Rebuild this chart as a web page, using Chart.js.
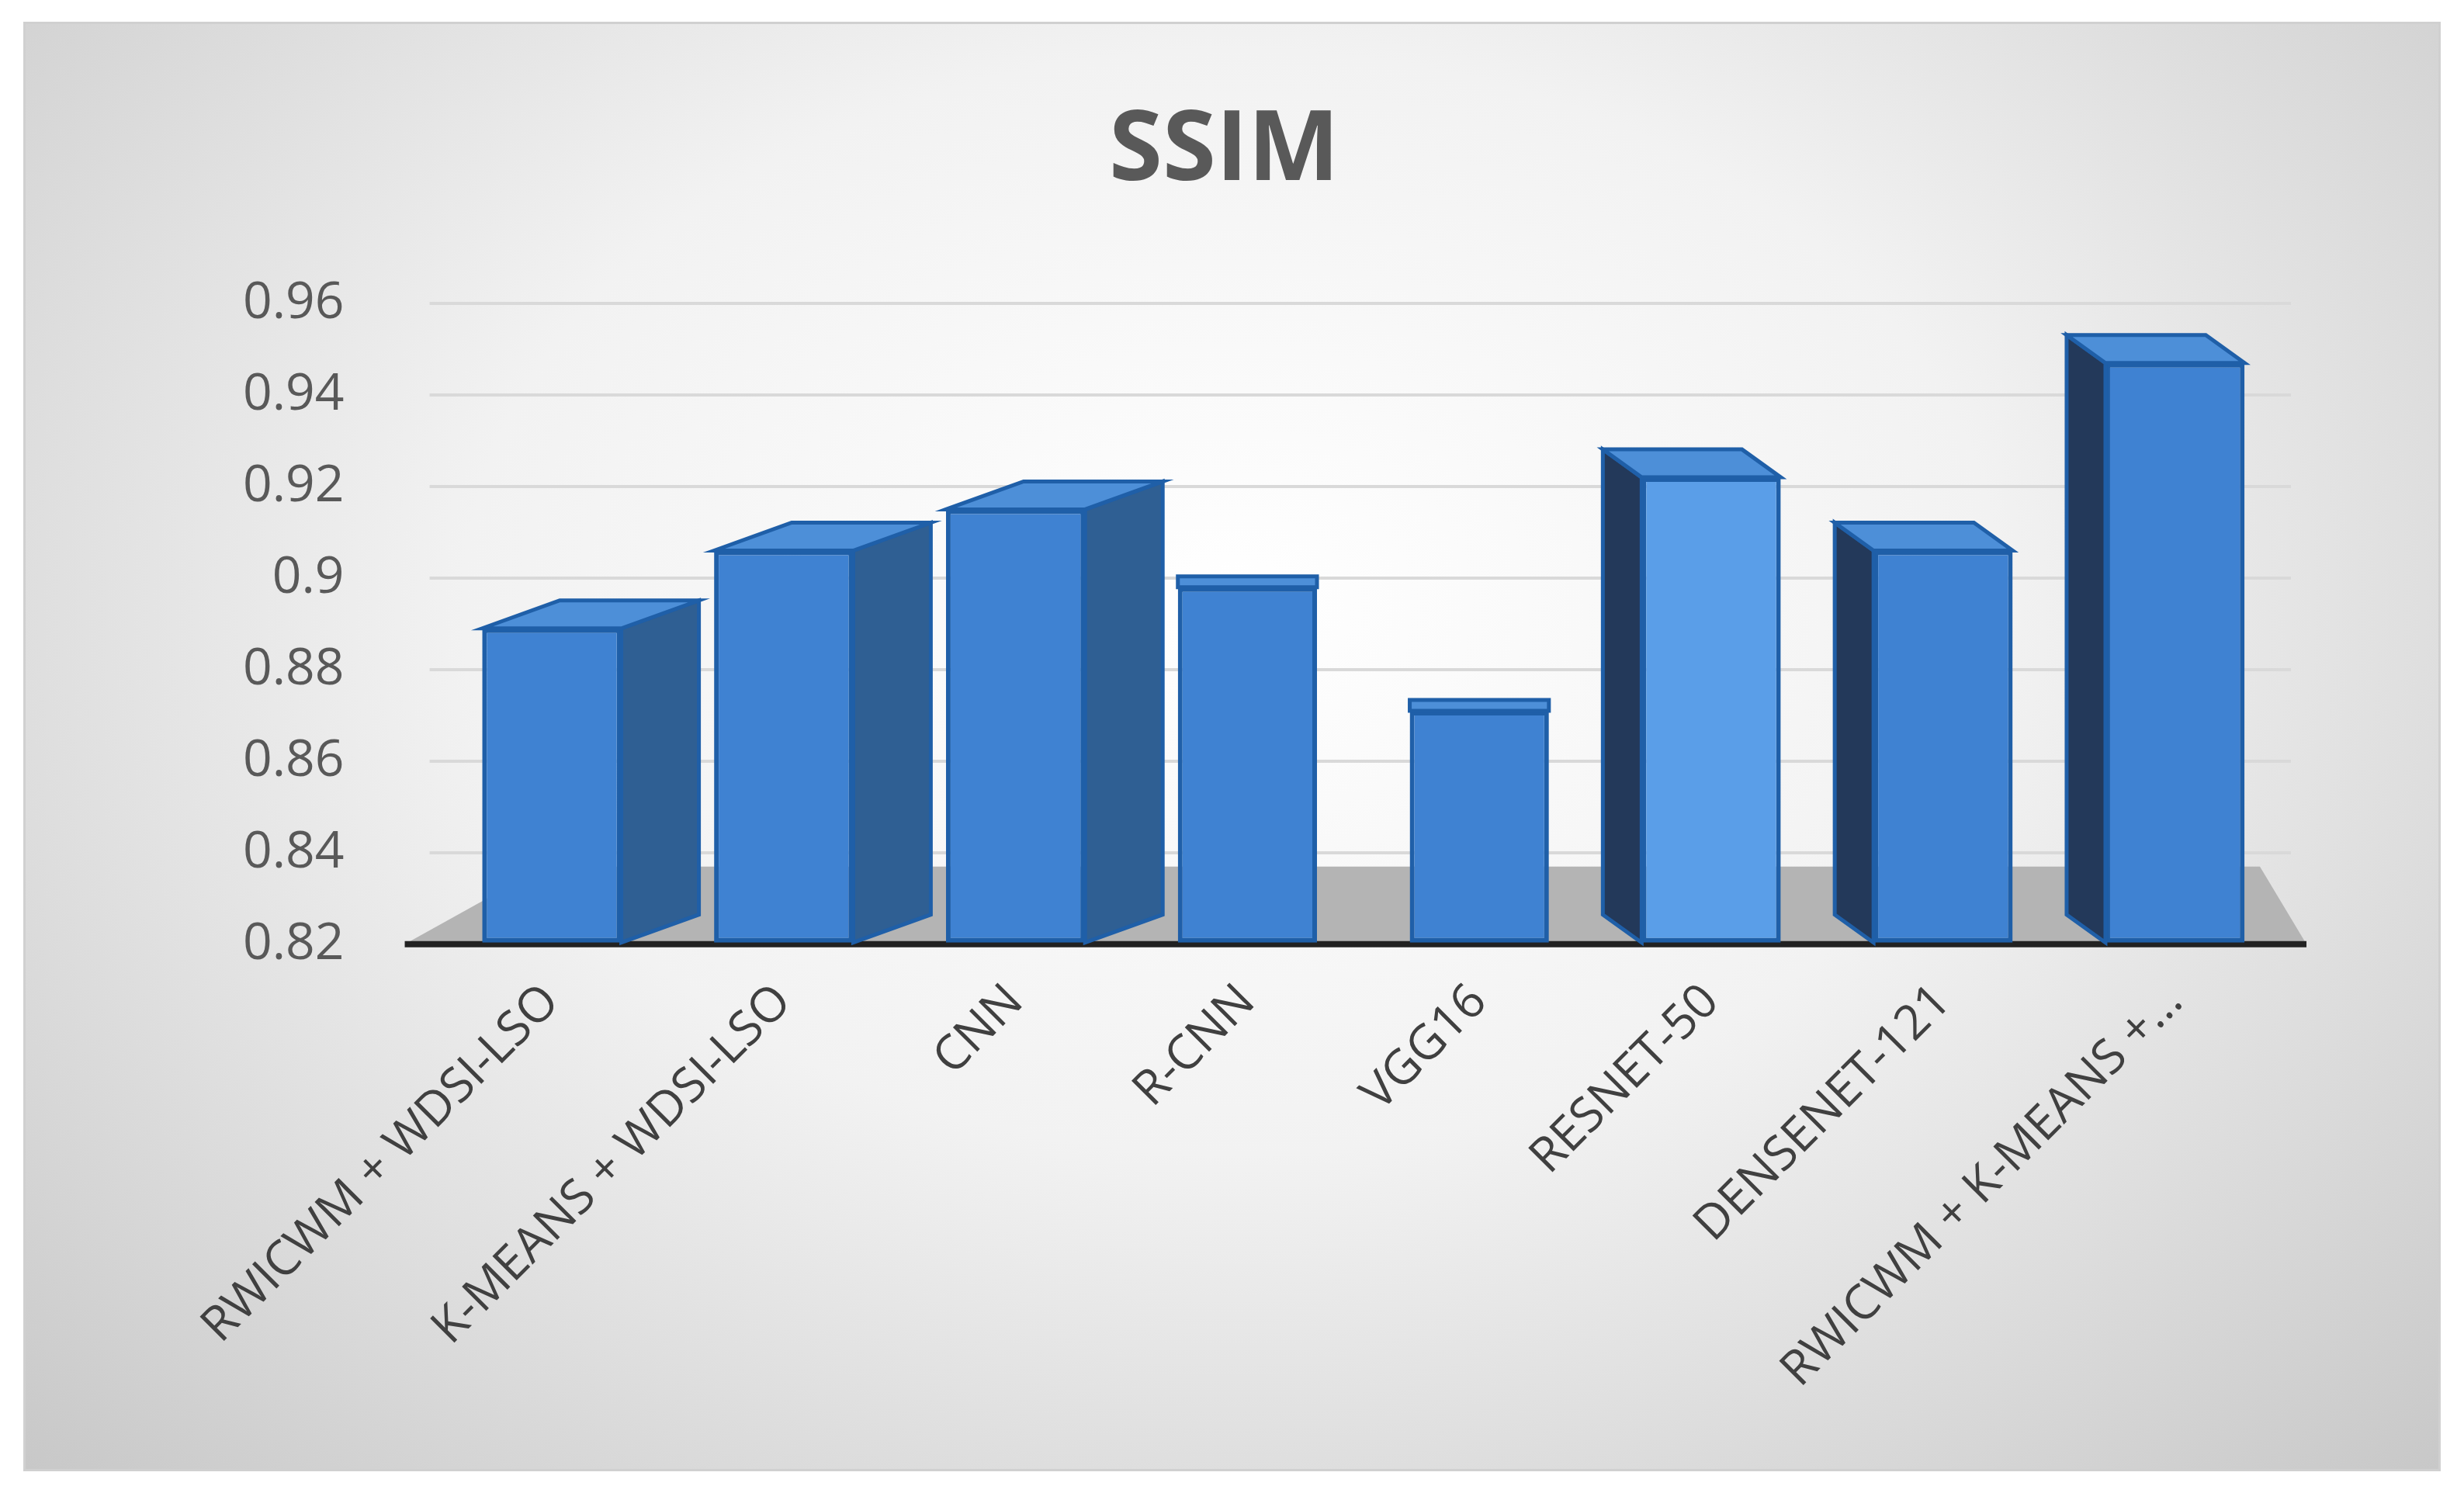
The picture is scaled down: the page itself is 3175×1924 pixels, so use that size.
<!DOCTYPE html>
<html>
<head>
  <title>SSIM</title>
  <script src="https://cdn.jsdelivr.net/npm/chart.js"></script>
  <style>
    body { margin: 0; padding: 0; background: #ffffff; font-family: 'Open Sans', sans-serif; }
    #chart-container {
      position: absolute; left: 30px; top: 28px; width: 3115px; height: 1868px;
      border: 3px solid #d0d0d0; box-sizing: border-box;
      background: radial-gradient(ellipse at 50% 40%, #ffffff 0%, #f2f2f2 45%, #c8c8c8 100%);
    }
    canvas { width: 100% !important; height: 100% !important; }
  </style>
</head>
<body>
  <div id="chart-container">
    <canvas id="myChart"></canvas>
  </div>
  <script>
    const categories = ['RWICWM + WDSI-LSO', 'K-MEANS + WDSI-LSO', 'CNN', 'R-CNN', 'VGG16', 'RESNET-50', 'DENSENET-121', 'RWICWM + K-MEANS +...'];
    const ssimValues = [0.889, 0.906, 0.915, 0.898, 0.871, 0.922, 0.906, 0.947];
    const yTicks = [0.82, 0.84, 0.86, 0.88, 0.9, 0.92, 0.94, 0.96];

    // fake 3D: floor, side faces and top faces drawn from the bar elements
    const depthPlugin = {
      id: 'depth',
      beforeDatasetsDraw(chart) {
        const { ctx, chartArea, scales } = chart;
        const y0 = scales.y.getPixelForValue(0.82);
        ctx.save();
        ctx.fillStyle = '#b4b4b4';
        ctx.beginPath();
        ctx.moveTo(chartArea.left - 40, y0);
        ctx.lineTo(chartArea.left + 140, y0 - 100);
        ctx.lineTo(chartArea.right - 40, y0 - 100);
        ctx.lineTo(chartArea.right + 20, y0);
        ctx.closePath();
        ctx.fill();
        ctx.strokeStyle = '#222';
        ctx.lineWidth = 8;
        ctx.beginPath();
        ctx.moveTo(chartArea.left - 40, y0);
        ctx.lineTo(chartArea.right + 20, y0);
        ctx.stroke();
        ctx.restore();
      },
      afterDatasetsDraw(chart) {
        const { ctx } = chart;
        const meta = chart.getDatasetMeta(0);
        const dx = 100, dy = -36;
        ctx.save();
        ctx.lineWidth = 5;
        ctx.strokeStyle = '#1f5fa8';
        meta.data.forEach((bar, i) => {
          const w = bar.width, l = bar.x - w / 2, r = bar.x + w / 2;
          const top = bar.y, bot = bar.base;
          const right = i < 4;
          const ox = right ? dx : -dx * 0.5;
          if (i !== 3 && i !== 4) {
            ctx.fillStyle = right ? '#2f5f93' : '#23395a';
            const sx = right ? r : l;
            ctx.beginPath();
            ctx.moveTo(sx, top); ctx.lineTo(sx + ox, top + dy); ctx.lineTo(sx + ox, bot + dy); ctx.lineTo(sx, bot);
            ctx.closePath();
            ctx.fill(); ctx.stroke();
          }
          const tox = (i === 3 || i === 4) ? 0 : ox;
          const tdy = (i === 3 || i === 4) ? -14 : dy;
          ctx.fillStyle = '#4d8fd8';
          ctx.beginPath();
          ctx.moveTo(l, top); ctx.lineTo(l + tox, top + tdy); ctx.lineTo(r + tox, top + tdy); ctx.lineTo(r, top);
          ctx.closePath();
          ctx.fill(); ctx.stroke();
        });
        ctx.restore();
      }
    };

    const ctx = document.getElementById('myChart').getContext('2d');
    new Chart(ctx, {
      type: 'bar',
      data: {
        labels: categories,
        datasets: [{
          label: 'SSIM',
          data: ssimValues,
          base: 0.82,
          backgroundColor: ssimValues.map((v, i) => i === 5 ? '#5a9ee8' : '#3f82d2'),
          borderColor: '#1f5fa8',
          borderWidth: 6,
          barPercentage: 0.6,
          categoryPercentage: 1.0,
          borderSkipped: false
        }]
      },
      options: {
        responsive: true,
        maintainAspectRatio: false,
        animation: false,
        layout: { padding: { left: 170, right: 190, top: 40, bottom: 60 } },
        plugins: {
          legend: { display: false },
          tooltip: { enabled: false },
          title: {
            display: true, text: 'SSIM', color: '#595959',
            font: { size: 125, weight: 'bold', family: 'Open Sans' },
            padding: { top: 50, bottom: 120 }
          }
        },
        scales: {
          x: {
            grid: { display: false },
            border: { display: false },
            ticks: { color: '#404040', font: { size: 62, family: 'Open Sans' }, maxRotation: 45, minRotation: 45, padding: 30 }
          },
          y: {
            min: 0.82, max: 0.96,
            afterBuildTicks: axis => { axis.ticks = yTicks.map(v => ({ value: v })); },
            grid: { color: '#d9d9d9', lineWidth: 4 },
            border: { display: false },
            ticks: { color: '#595959', font: { size: 66, family: 'Open Sans' }, padding: 110,
              callback: v => String(Math.round(v * 100) / 100) }
          }
        }
      },
      plugins: [depthPlugin]
    });
  </script>
</body>
</html>
